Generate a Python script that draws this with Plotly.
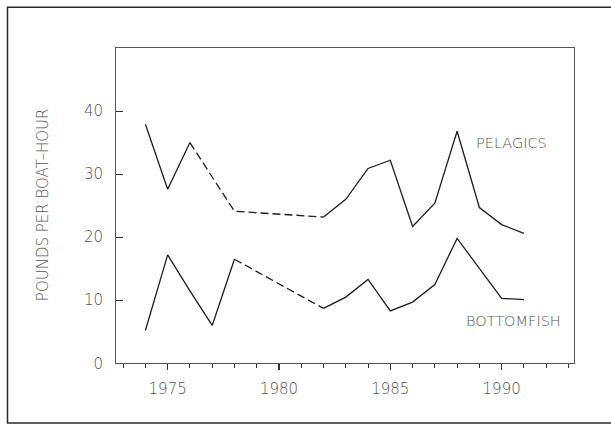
import plotly.graph_objects as go

# ---- data ----
pel_years = [1974, 1975, 1976, 1978, 1982, 1983, 1984, 1985, 1986, 1987, 1988, 1989, 1990, 1991]
pelagics = [37.9, 27.6, 35.0, 24.1, 23.2, 26.0, 30.9, 32.2, 21.7, 25.4, 36.8, 24.7, 22.0, 20.6]
pel_dashed_span = (1976, 1982)

bot_years = [1974, 1975, 1976, 1977, 1978, 1982, 1983, 1984, 1985, 1986, 1987, 1988, 1989, 1990, 1991]
bottomfish = [5.2, 17.2, 11.5, 6.0, 16.5, 8.7, 10.5, 13.3, 8.3, 9.7, 12.5, 19.8, 15.1, 10.3, 10.1]
bot_dashed_span = (1978, 1982)

x_tickvals = [1975, 1980, 1985, 1990]
y_tickvals = [0, 10, 20, 30, 40]

W, H = 611, 434
FONT = "DejaVu Sans"
TXT = "#555555"
LINE = "#1e1e1e"


def px(xw):
    return xw / W


def py(yw):
    return 1 - yw / H


def segments(xs, ys, span):
    a, b = span
    pre = [(x, y) for x, y in zip(xs, ys) if x <= a]
    mid = [(x, y) for x, y in zip(xs, ys) if a <= x <= b]
    post = [(x, y) for x, y in zip(xs, ys) if x >= b]
    return [(pre, "solid"), (mid, "8px,4px"), (post, "solid")]


fig = go.Figure()
for xs, ys, span in [(pel_years, pelagics, pel_dashed_span), (bot_years, bottomfish, bot_dashed_span)]:
    for pts, dash in segments(xs, ys, span):
        if len(pts) < 2:
            continue
        fig.add_trace(go.Scatter(
            x=[p[0] for p in pts], y=[p[1] for p in pts], mode="lines",
            line=dict(color=LINE, width=1.3, dash=dash), showlegend=False, hoverinfo="skip"))

tf = dict(family=FONT, size=15, color=TXT, weight=300)
fig.update_layout(
    width=W, height=H, margin=dict(l=0, r=0, t=0, b=0),
    paper_bgcolor="white", plot_bgcolor="white", showlegend=False,
    font=tf,
    xaxis=dict(domain=[px(116), px(574)], range=[1972.68, 1993.25],
               tickvals=x_tickvals, ticktext=[str(v) for v in x_tickvals],
               ticks="outside", ticklen=6, tickwidth=1.2, tickcolor="#333",
               minor=dict(dtick=1, tick0=1972, ticks="outside", ticklen=4, tickcolor="#333", tickwidth=1),
               showline=True, linecolor="#555", linewidth=1, mirror=True,
               showgrid=False, zeroline=False, ticklabelstandoff=6, tickfont=tf),
    yaxis=dict(domain=[py(371), py(49)], range=[0, 50],
               tickvals=y_tickvals, ticktext=[str(v) for v in y_tickvals],
               ticks="inside", ticklen=7, tickwidth=1, tickcolor="#333",
               showline=True, linecolor="#555", linewidth=1, mirror=True,
               showgrid=False, zeroline=False, ticklabelstandoff=9, tickfont=tf),
)

fig.add_shape(type="rect", xref="paper", yref="paper",
              x0=px(7.5), x1=px(616), y0=py(432), y1=py(7.5),
              line=dict(color="#2a2a2a", width=1.5), layer="below")

af = dict(family=FONT, size=14.5, color=TXT, weight=300)
fig.add_annotation(text="PELAGICS", x=1990.46, y=35.0, xref="x", yref="y",
                   showarrow=False, font=af)
fig.add_annotation(text="BOTTOMFISH", x=1990.53, y=6.75, xref="x", yref="y",
                   showarrow=False, font=af)
fig.add_annotation(text="POUNDS PER BOAT\u2013HOUR", x=px(42.5), y=py(209),
                   xref="paper", yref="paper", textangle=-90, showarrow=False,
                   xanchor="center", yanchor="middle",
                   font=dict(family=FONT, size=15, color=TXT, weight=300))

# no body margin; size the figure to the actual viewport (all positions are paper fractions)
post = ("var s=document.createElement('style');"
        "s.textContent='html,body{margin:0;padding:0;overflow:hidden;}';"
        "document.head.appendChild(s);"
        "var gd=document.getElementById('{plot_id}');"
        "var vw=window.innerWidth, vh=window.innerHeight;"
        "if(vw>100 && vh>100 && (vw!==611 || vh!==434)){"
        "gd.style.width=vw+'px';gd.style.height=vh+'px';"
        "Plotly.relayout(gd,{width:vw,height:vh});}")
fig.write_html("out.html", config={"displayModeBar": False, "staticPlot": True},
               post_script=post)
